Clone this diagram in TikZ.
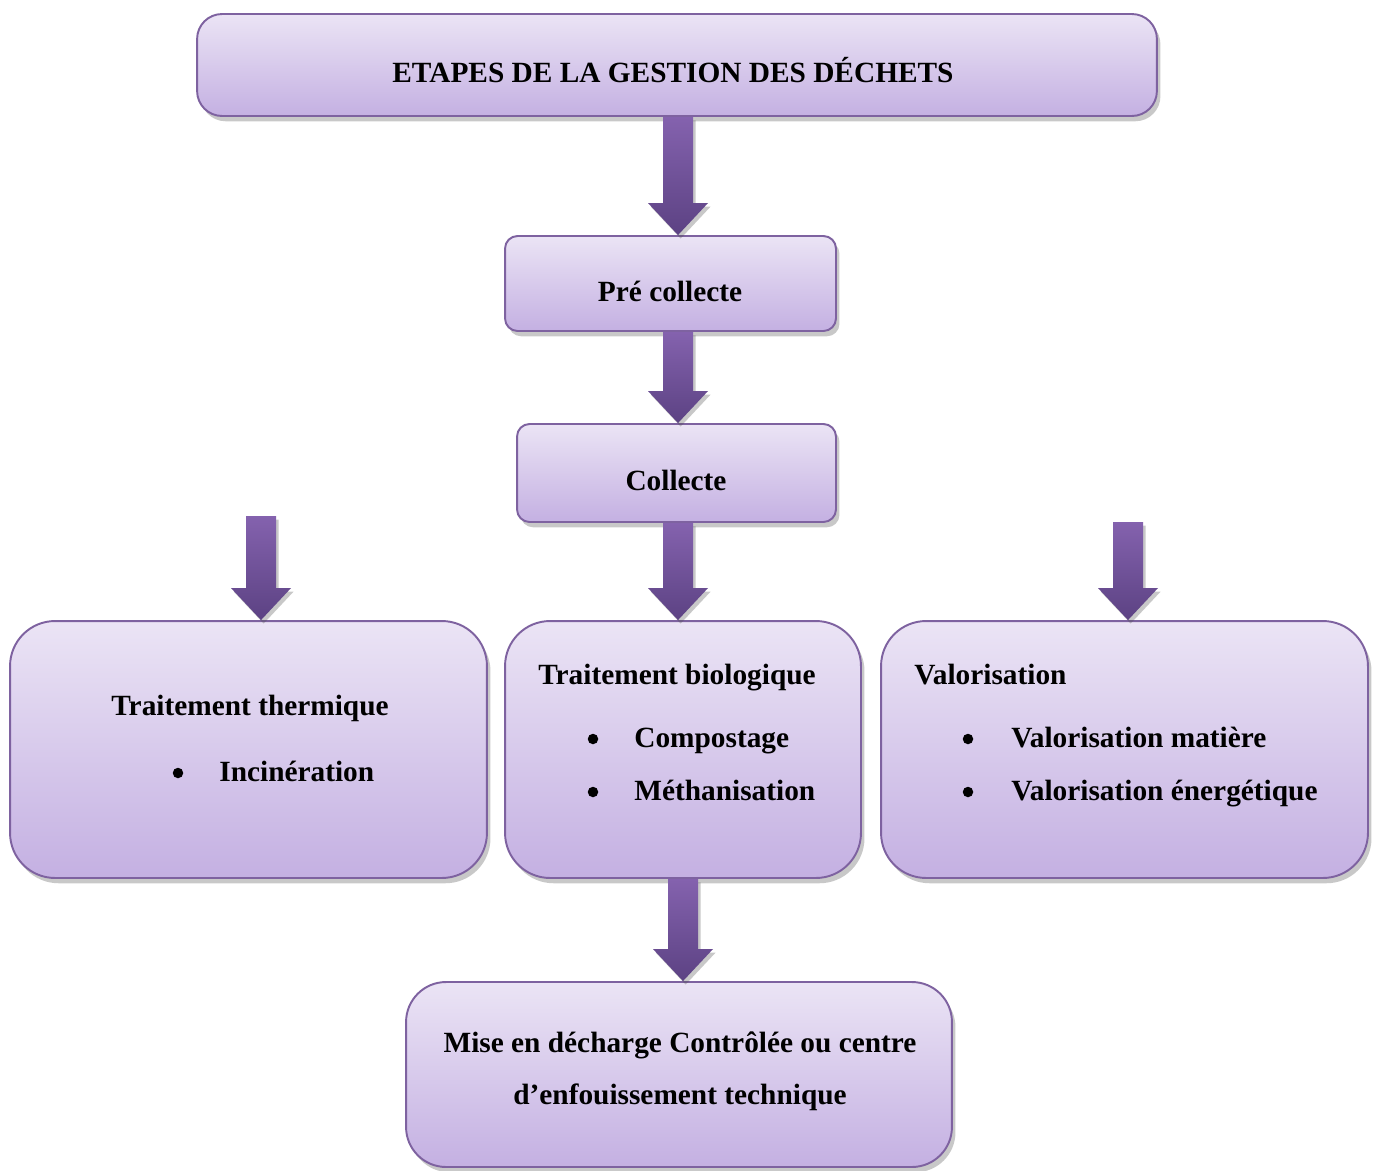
\documentclass[tikz,border=0pt]{standalone}
\usepackage{fontspec}
\setmainfont{Liberation Serif}
\usepackage{tikz}
\usetikzlibrary{positioning,calc,shadows}

\definecolor{boxtop}{HTML}{EBE4F5}
\definecolor{boxbot}{HTML}{C4B0E2}
\definecolor{boxline}{HTML}{7E62A0}
\definecolor{arrtop}{HTML}{8462AE}
\definecolor{arrbot}{HTML}{5C4283}

% block arrow: #1 top of shaft, #2 tip
\newcommand{\blockarrow}[2]{%
  \shade[arrowshade] ($(#1)+(-15,0)$) -- ($(#2)+(-15,-32)$) -- ($(#2)+(-30,-32)$)
    -- (#2) -- ($(#2)+(30,-32)$) -- ($(#2)+(15,-32)$) -- ($(#1)+(15,0)$) -- cycle;}

\begin{document}
\begin{tikzpicture}[x=0.02cm,y=-0.02cm,
    box/.style={rectangle,draw=boxline,line width=1.1pt,top color=boxtop,bottom color=boxbot,
      inner sep=0pt,drop shadow={shadow xshift=2pt,shadow yshift=-3pt,opacity=0.3,fill=black!70}},
    arrowshade/.style={top color=arrtop,bottom color=arrbot,
      drop shadow={shadow xshift=1.5pt,shadow yshift=-2pt,opacity=0.3,fill=black!70}},
    lbl/.style={inner sep=0pt},
    dot/.style={circle,fill=black,inner sep=0pt,minimum size=0.21cm},
    every node/.style={font=\fontsize{16.7}{29.6}\selectfont\bfseries}]
  \path[use as bounding box,fill=white] (0,0) rectangle (1376,1170);

  % boxes
  \node[box,rounded corners=0.5cm,minimum width=19.2cm,minimum height=2.04cm] (top) at (677,65) {};
  \node[box,rounded corners=0.25cm,minimum width=6.62cm,minimum height=1.9cm] (pre) at (670.5,283.5) {};
  \node[box,rounded corners=0.25cm,minimum width=6.38cm,minimum height=1.96cm] (coll) at (676.5,473) {};
  \node[box,rounded corners=0.9cm,minimum width=9.54cm,minimum height=5.14cm] (therm) at (248.5,749.5) {};
  \node[box,rounded corners=0.9cm,minimum width=7.12cm,minimum height=5.14cm] (bio) at (683,749.5) {};
  \node[box,rounded corners=0.9cm,minimum width=9.74cm,minimum height=5.14cm] (valo) at (1124.5,749.5) {};
  \node[box,rounded corners=0.8cm,minimum width=10.92cm,minimum height=3.7cm] (mise) at (679,1074.5) {};

  % arrows
  \coordinate (spine) at (678,0);
  \coordinate (lstart) at (261,516);
  \coordinate (rstart) at (1128,522);
  \coordinate (bspine) at (683,0);
  \blockarrow{spine |- top.south}{spine |- pre.north}
  \blockarrow{spine |- pre.south}{spine |- coll.north}
  \blockarrow{spine |- coll.south}{spine |- bio.north}
  \blockarrow{lstart}{lstart |- therm.north}
  \blockarrow{rstart}{rstart |- valo.north}
  \blockarrow{bspine |- bio.south}{bspine |- mise.north}

  % texts
  \node[lbl,anchor=base] (ttop) at (673,82) {ETAPES DE LA GESTION DES DÉCHETS};
  \node[lbl,anchor=base] (tpre) at (670,301) {Pré collecte};
  \node[lbl,anchor=base] (tcoll) at (676,490) {Collecte};

  \node[lbl,anchor=base] (ttherm) at (250,715) {Traitement thermique};
  \node[dot] (d1) at (178,773) {};
  \node[lbl,anchor=base west] (tinc) at (219,781) {Incinération};

  \node[lbl,anchor=base] (tbio) at (677,684) {Traitement biologique};
  \node[dot] (d2) at (593,739) {};
  \node[lbl,anchor=base west] (tcomp) at (634,747) {Compostage};
  \node[dot] (d3) at (593,792) {};
  \node[lbl,anchor=base west] (tmeth) at (634,800) {Méthanisation};

  \node[lbl,anchor=base west] (tvalo) at (914,684) {Valorisation};
  \node[dot] (d4) at (968,739) {};
  \node[lbl,anchor=base west] (tmat) at (1011,747) {Valorisation matière};
  \node[dot] (d5) at (968,792) {};
  \node[lbl,anchor=base west] (tener) at (1011,800) {Valorisation énergétique};

  \node[lbl,anchor=base] (tmise1) at (680,1052) {Mise en décharge Contrôlée ou centre};
  \node[lbl,anchor=base] (tmise2) at (680,1104) {d’enfouissement technique};
\end{tikzpicture}
\end{document}
